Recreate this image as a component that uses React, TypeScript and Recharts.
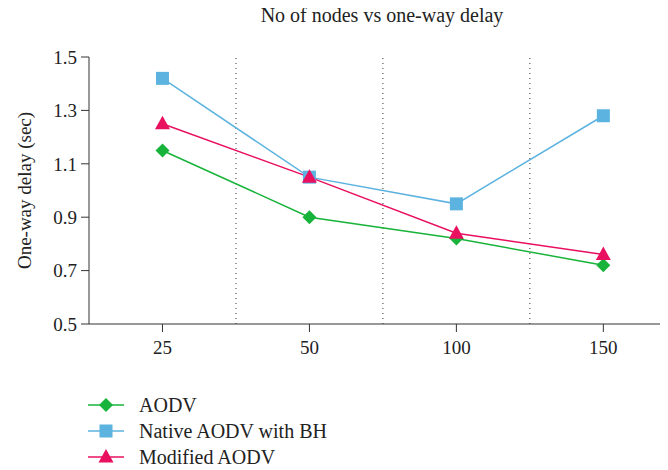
import React from "react";
import { LineChart, Line, XAxis, YAxis, ReferenceLine, Legend } from "recharts";

const categories = ["25", "50", "100", "150"];
const aodv = [1.15, 0.9, 0.82, 0.72];
const nativeBH = [1.42, 1.05, 0.95, 1.28];
const modified = [1.25, 1.05, 0.84, 0.76];
const yTicks = [0.5, 0.7, 0.9, 1.1, 1.3, 1.5];
const separators = [0.5, 1.5, 2.5];

const GREEN = "#17b33a";
const BLUE = "#5db3df";
const PINK = "#e8105f";
const FONT = "'Liberation Serif', 'DejaVu Serif', serif";

const data = categories.map((c, i) => ({
  i,
  label: c,
  aodv: aodv[i],
  nativeBH: nativeBH[i],
  modified: modified[i],
}));

const Diamond = ({ cx, cy, color, r = 7 }: any) => (
  <polygon points={`${cx},${cy - r} ${cx + r},${cy} ${cx},${cy + r} ${cx - r},${cy}`} fill={color} />
);
const Square = ({ cx, cy, color, s = 13 }: any) => (
  <rect x={cx - s / 2} y={cy - s / 2} width={s} height={s} fill={color} />
);
const Triangle = ({ cx, cy, color }: any) => (
  <polygon points={`${cx},${cy - 8} ${cx + 7.5},${cy + 5.5} ${cx - 7.5},${cy + 5.5}`} fill={color} />
);

const series = [
  { key: "aodv", name: "AODV", color: GREEN, Shape: Diamond },
  { key: "nativeBH", name: "Native AODV with BH", color: BLUE, Shape: Square },
  { key: "modified", name: "Modified AODV", color: PINK, Shape: Triangle },
];

const renderLegend = () => (
  <div style={{ height: 78, paddingLeft: 80, fontFamily: FONT, fontSize: 20, color: "#222" }}>
    {series.map((s) => (
      <div key={s.key} style={{ display: "flex", alignItems: "center", height: 26 }}>
        <svg width={36} height={20} style={{ marginRight: 15 }}>
          <line x1={0} y1={10} x2={36} y2={10} stroke={s.color} strokeWidth={1.5} />
          <s.Shape cx={18} cy={10} color={s.color} />
        </svg>
        <span>{s.name}</span>
      </div>
    ))}
  </div>
);

export default function App() {
  return (
    <div style={{ position: "relative", width: 660, height: 470, marginTop: -8 }}>
      <LineChart
        width={660}
        height={470}
        data={data}
        margin={{ top: 57, right: 0, left: 0, bottom: 0 }}
      >
        <text x={374} y={22} textAnchor="middle" fontFamily={FONT} fontSize={20} fill="#222">
          No of nodes vs one-way delay
        </text>
        <XAxis
          type="number"
          dataKey="i"
          domain={[-0.5, 3.44]}
          ticks={[0, 1, 2, 3]}
          tickFormatter={(v: number) => categories[v]}
          allowDataOverflow
          height={68}
          tickSize={8}
          tickMargin={9}
          stroke="#333"
          tick={{ fill: "#222", fontFamily: FONT, fontSize: 19 }}
        />
        <YAxis
          type="number"
          domain={[0.5, 1.5]}
          ticks={yTicks}
          tickFormatter={(v: number) => v.toFixed(1)}
          width={81}
          tickSize={8}
          tickMargin={4}
          stroke="#333"
          tick={{ fill: "#222", fontFamily: FONT, fontSize: 19 }}
          label={(props: any) => {
            const vb = props.viewBox || {};
            const cy = (vb.y || 0) + (vb.height || 0) / 2;
            return (
              <text
                x={16}
                y={cy}
                transform={`rotate(-90, 16, ${cy})`}
                textAnchor="middle"
                dominantBaseline="central"
                fontFamily={FONT}
                fontSize={19}
                fill="#222"
              >
                One-way delay (sec)
              </text>
            );
          }}
        />
        {separators.map((x) => (
          <ReferenceLine key={x} x={x} stroke="#333" strokeDasharray="1 4" strokeWidth={1} />
        ))}
        {series.map((s) => (
          <Line
            key={s.key}
            dataKey={s.key}
            name={s.name}
            stroke={s.color}
            strokeWidth={1.5}
            isAnimationActive={false}
            dot={(p: any) => <s.Shape key={`${s.key}-${p.index}`} cx={p.cx} cy={p.cy} color={s.color} />}
            activeDot={false}
          />
        ))}
        <Legend verticalAlign="bottom" align="left" layout="horizontal" content={renderLegend} />
      </LineChart>
    </div>
  );
}
